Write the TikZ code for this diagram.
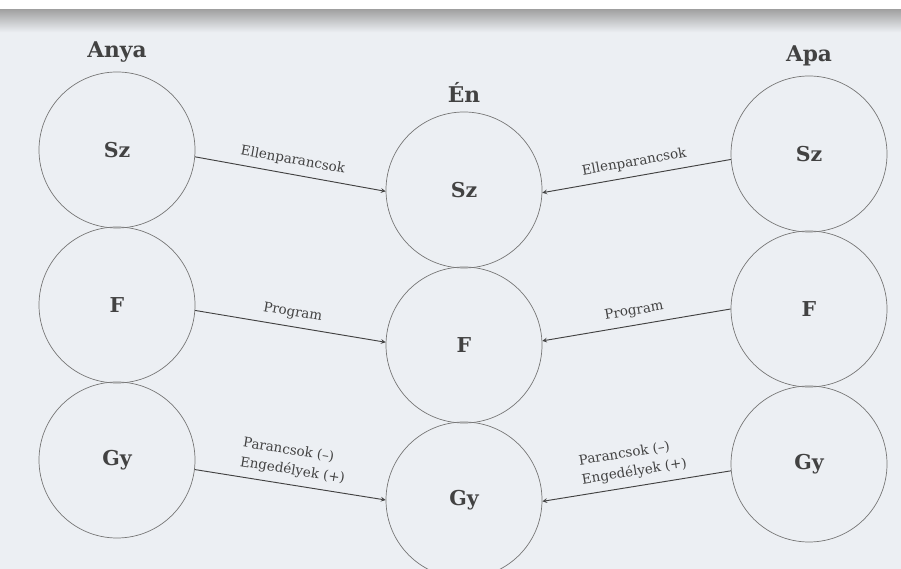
\documentclass[tikz,border=0pt]{standalone}
\usepackage{fontspec}
\setmainfont{DejaVu Serif}
\usetikzlibrary{shapes.geometric, arrows}
\definecolor{paper}{RGB}{236,239,243}
\definecolor{ink}{RGB}{66,66,66}
\definecolor{rim}{RGB}{118,118,118}
\tikzstyle{ego} = [circle, minimum size=4.68cm, draw=rim, line width=0.6pt, text=ink, font=\bfseries\fontsize{17.5}{20}\selectfont]
\tikzstyle{title} = [text=ink, font=\bfseries\fontsize{18.5}{22}\selectfont]
\tikzstyle{arrow} = [draw=ink, line width=0.8pt, ->, >=stealth]
\tikzstyle{msg} = [text=ink, font=\fontsize{11.5}{15}\selectfont, sloped, above=4pt, align=left, inner sep=2pt]

\begin{document}
\begin{tikzpicture}[node distance=4.65cm]
% page
\clip (0,0) rectangle (27.03,17.07);
\fill[paper] (0,0) rectangle (27.03,17.07);
\shade[top color=gray!75, bottom color=paper] (0,16.8) rectangle (27.03,16.1);
\fill[white] (0,16.8) rectangle (27.03,17.07);

% Anya
\node (AnyaSz) [ego] at (3.51,12.57) {Sz};
\node (AnyaF) [ego, below of = AnyaSz] {F};
\node (AnyaGy) [ego, below of = AnyaF] {Gy};
% En
\node (EnSz) [ego, right of = AnyaSz, xshift=5.76cm, yshift=-1.2cm] {Sz};
\node (EnF) [ego, below of = EnSz] {F};
\node (EnGy) [ego, below of = EnF] {Gy};
% Apa
\node (ApaSz) [ego, right of = EnSz, xshift=5.7cm, yshift=1.08cm] {Sz};
\node (ApaF) [ego, below of = ApaSz] {F};
\node (ApaGy) [ego, below of = ApaF] {Gy};

\node (Anya) [title, above of = AnyaSz, yshift=-1.71cm] {Anya};
\node (En) [title, above of = EnSz, yshift=-1.71cm] {Én};
\node (Apa) [title, above of = ApaSz, yshift=-1.71cm] {Apa};

\draw [arrow] (AnyaSz.-5) -- node (msgAnyaSz) [msg] {Ellenparancsok} (EnSz.181.5);
\draw [arrow] (AnyaF.-4) -- node (msgAnyaF) [msg] {Program} (EnF.178);
\draw [arrow] (AnyaGy.-7) -- node (msgAnyaGy) [msg] {Parancsok (–)\\[1.5pt]Engedélyek (+)} (EnGy.180);
\draw [arrow] (ApaSz.184.5) -- node (msgApaSz) [msg] {Ellenparancsok} (EnSz.358.5);
\draw [arrow] (ApaF.180) -- node (msgApaF) [msg] {Program} (EnF.3);
\draw [arrow] (ApaGy.185) -- node (msgApaGy) [msg] {Parancsok (–)\\[1.5pt]Engedélyek (+)} (EnGy.359);
\end{tikzpicture}
\end{document}
